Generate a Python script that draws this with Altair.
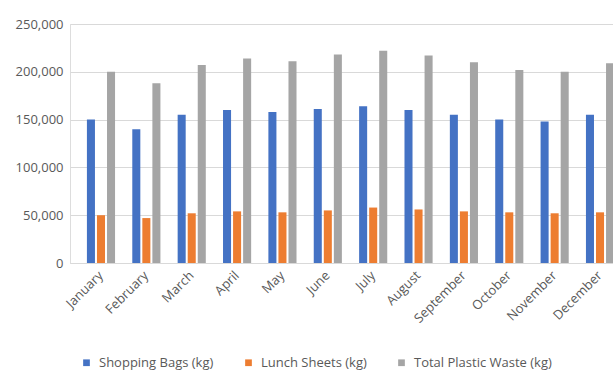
import altair as alt
import pandas as pd

months = ["January", "February", "March", "April", "May", "June", "July",
          "August", "September", "October", "November", "December"]
shopping_bags = [150000, 140000, 155000, 160000, 158000, 161000, 164000,
                 160000, 155000, 150000, 148000, 155000]
lunch_sheets = [50000, 47000, 52000, 54000, 53000, 55000, 58000,
                56000, 54000, 53000, 52000, 53000]
total_waste = [200000, 188000, 207000, 214000, 211000, 218000, 222000,
               217000, 210000, 202000, 200000, 209000]
series = ["Shopping Bags (kg)", "Lunch Sheets (kg)", "Total Plastic Waste (kg)"]
colors = ["#4472C4", "#ED7D31", "#A5A5A5"]

rows = []
for s, vals in zip(series, [shopping_bags, lunch_sheets, total_waste]):
    for m, v in zip(months, vals):
        rows.append({"Month": m, "Series": s, "Value": v})
df = pd.DataFrame(rows)

FONT = "Open Sans"
TXT = "#595959"

chart = alt.Chart(df).mark_bar().encode(
    x=alt.X("Month:N", sort=months,
            scale=alt.Scale(range=[0, 561], paddingInner=0.38, paddingOuter=0.373),
            axis=alt.Axis(title=None, labelAngle=-45, labelAlign="right",
                          labelBaseline="middle", labelPadding=10, ticks=False,
                          domainColor="#D9D9D9", labelColor=TXT, labelFont=FONT,
                          labelFontSize=13, grid=False)),
    xOffset=alt.XOffset("Series:N", sort=series,
                        scale=alt.Scale(paddingInner=0.2, paddingOuter=0)),
    y=alt.Y("Value:Q", scale=alt.Scale(domain=[0, 250000], nice=False),
            axis=alt.Axis(title=None, values=[0, 50000, 100000, 150000, 200000, 250000],
                          format=",.0f", ticks=False, domain=False, gridColor="#D9D9D9",
                          labelColor=TXT, labelFont=FONT, labelFontSize=13,
                          labelPadding=7)),
    color=alt.Color("Series:N", sort=series,
                    scale=alt.Scale(domain=series, range=colors),
                    legend=alt.Legend(title=None, orient="none", direction="horizontal",
                                      legendX=10, legendY=332, symbolType="square",
                                      symbolSize=45, symbolStrokeWidth=0,
                                      labelColor=TXT, labelFont=FONT, labelFontSize=13,
                                      labelOffset=6, columnPadding=28)),
).properties(
    width=543, height=239,
    autosize=alt.AutoSizeParams(type="none"),
    padding={"left": 70, "top": 24, "right": 0, "bottom": 109},
).configure_view(stroke=None).configure(background="white")

chart.save("out.html", embed_options={"renderer": "svg", "actions": False})
